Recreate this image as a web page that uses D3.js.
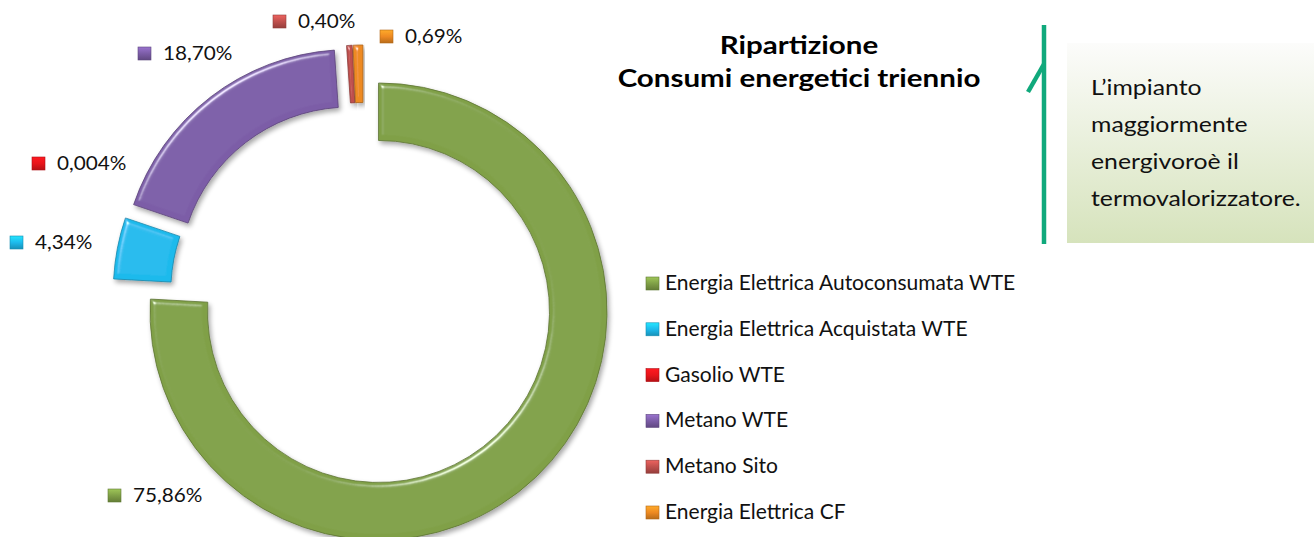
<!DOCTYPE html>
<html>
<head>
<meta charset="utf-8">
<script src="https://cdn.jsdelivr.net/npm/d3@7"></script>
<style>
  html, body { margin: 0; padding: 0; background: #fff; }
  svg { display: block; font-family: Lato, "Open Sans", sans-serif; }
</style>
</head>
<body>
<script>
// ---- data ----
const categories = [
  "Energia Elettrica Autoconsumata WTE",
  "Energia Elettrica Acquistata WTE",
  "Gasolio WTE",
  "Metano WTE",
  "Metano Sito",
  "Energia Elettrica CF"
];
const values = [75.86, 4.34, 0.004, 18.70, 0.40, 0.69];
const valueLabels = ["75,86%", "4,34%", "0,004%", "18,70%", "0,40%", "0,69%"];
const colors = ["#80A047", "#1DBAEC", "#E8141A", "#7C5DA7", "#C0504D", "#EE8A22"];
const titleLines = ["Ripartizione", "Consumi energetici triennio"];
const noteLines = ["L\u2019impianto", "maggiormente", "energivoro\u00e8 il", "termovalorizzatore."];

// ---- layout (not data) ----
const W = 1314, H = 537;
const cx = 363.4, cy = 295.5, Rout = 228.5, Rin = 171, explode = 22;
// manually placed data label anchors: [marker x, text baseline]
const labelAnchors = [[108, 502], [10, 249], [32, 170], [138, 60], [273, 28], [380, 43]];

const svg = d3.select("body").append("svg").attr("width", W).attr("height", H);
const defs = svg.append("defs");

// horizontal stretch helper (the reference text is wider than the font)
function stretch(sel, factor) {
  sel.each(function () {
    const w = this.getComputedTextLength();
    d3.select(this).attr("textLength", w * factor).attr("lengthAdjust", "spacingAndGlyphs");
  });
}

// bevel + shadow filter
const f = defs.append("filter").attr("id", "bevel")
  .attr("x", "-10%").attr("y", "-10%").attr("width", "130%").attr("height", "130%");
f.append("feGaussianBlur").attr("in", "SourceAlpha").attr("stdDeviation", 2.5).attr("result", "blur");
const spec = f.append("feSpecularLighting").attr("in", "blur").attr("surfaceScale", 4)
  .attr("specularConstant", 0.7).attr("specularExponent", 40)
  .attr("lighting-color", "#ffffff").attr("result", "spec");
spec.append("feDistantLight").attr("azimuth", 235).attr("elevation", 40);
f.append("feComposite").attr("in", "spec").attr("in2", "SourceAlpha").attr("operator", "in").attr("result", "specIn");
f.append("feComposite").attr("in", "SourceGraphic").attr("in2", "specIn").attr("operator", "arithmetic")
  .attr("k1", 0).attr("k2", 1).attr("k3", 1).attr("k4", 0).attr("result", "lit");
f.append("feGaussianBlur").attr("in", "SourceAlpha").attr("stdDeviation", 2.5).attr("result", "sb");
f.append("feOffset").attr("in", "sb").attr("dx", 2).attr("dy", 3).attr("result", "so");
f.append("feComponentTransfer").attr("in", "so").attr("result", "sh")
  .append("feFuncA").attr("type", "linear").attr("slope", 0.35);
const mg = f.append("feMerge");
mg.append("feMergeNode").attr("in", "sh");
mg.append("feMergeNode").attr("in", "lit");

// small marker gradients
colors.forEach((c, i) => {
  const g = defs.append("linearGradient").attr("id", "mk" + i)
    .attr("x1", 0).attr("y1", 0).attr("x2", 0).attr("y2", 1);
  g.append("stop").attr("offset", "0%").attr("stop-color", d3.color(c).brighter(0.6));
  g.append("stop").attr("offset", "50%").attr("stop-color", c);
  g.append("stop").attr("offset", "100%").attr("stop-color", d3.color(c).darker(0.7));
});

// ---- donut ----
const pie = d3.pie().sort(null).value(d => d).startAngle(0).endAngle(2 * Math.PI);
const arcs = pie(values);
const arcGen = d3.arc().innerRadius(Rin).outerRadius(Rout);

const gDonut = svg.append("g").attr("transform", `translate(${cx},${cy})`);
gDonut.selectAll("path.slice").data(arcs).join("path")
  .attr("class", "slice")
  .attr("transform", d => {
    const m = (d.startAngle + d.endAngle) / 2;
    return `translate(${explode * Math.sin(m)},${-explode * Math.cos(m)})`;
  })
  .attr("d", arcGen)
  .attr("fill", (d, i) => colors[i])
  .attr("stroke", (d, i) => d3.color(colors[i]).darker(0.9))
  .attr("stroke-width", d => ((d.endAngle - d.startAngle) * Rout < 1 ? 0 : 0.8))
  .attr("filter", "url(#bevel)");

// ---- data labels ----
const gLab = svg.append("g");
const lab = gLab.selectAll("g").data(valueLabels).join("g")
  .attr("transform", (d, i) => `translate(${labelAnchors[i][0]},${labelAnchors[i][1]})`);
lab.append("rect").attr("x", 0).attr("y", -13).attr("width", 13).attr("height", 13)
  .attr("fill", (d, i) => `url(#mk${i})`)
  .attr("stroke", (d, i) => d3.color(colors[i]).darker(0.8)).attr("stroke-width", 0.6);
lab.append("text").attr("x", 25).attr("y", 0)
  .attr("font-size", 18.5).attr("fill", "#111").text(d => d)
  .call(stretch, 1.12);

// ---- title ----
svg.append("g").selectAll("text").data(titleLines).join("text")
  .attr("x", 799).attr("y", (d, i) => 54 + i * 33).attr("text-anchor", "middle")
  .attr("font-size", 24).attr("font-weight", "bold").attr("fill", "#000").text(d => d)
  .call(stretch, 1.23);

// ---- legend ----
const legendX = 646, legendY0 = 290, legendStep = 45.8;
const yL = d3.scalePoint().domain(categories).range([legendY0, legendY0 + legendStep * (categories.length - 1)]);
const lg = svg.append("g").selectAll("g").data(categories).join("g")
  .attr("transform", d => `translate(${legendX},${yL(d)})`);
lg.append("rect").attr("x", 0).attr("y", -13).attr("width", 13).attr("height", 13)
  .attr("fill", (d, i) => `url(#mk${i})`)
  .attr("stroke", (d, i) => d3.color(colors[i]).darker(0.8)).attr("stroke-width", 0.6);
lg.append("text").attr("x", 19).attr("y", 0).attr("font-size", 21).attr("fill", "#111").text(d => d);

// ---- callout note ----
const ng = defs.append("linearGradient").attr("id", "noteGrad")
  .attr("x1", 0).attr("y1", 0).attr("x2", 0).attr("y2", 1);
ng.append("stop").attr("offset", "0%").attr("stop-color", "#FCFCFB");
ng.append("stop").attr("offset", "100%").attr("stop-color", "#D6E3BC");
svg.append("rect").attr("x", 1067).attr("y", 43).attr("width", 250).attr("height", 200)
  .attr("fill", "url(#noteGrad)");
svg.append("line").attr("x1", 1044).attr("y1", 25).attr("x2", 1044).attr("y2", 244)
  .attr("stroke", "#10A97C").attr("stroke-width", 4.5);
svg.append("line").attr("x1", 1028).attr("y1", 92).attr("x2", 1044).attr("y2", 64)
  .attr("stroke", "#10A97C").attr("stroke-width", 4.5);
svg.append("g").selectAll("text").data(noteLines).join("text")
  .attr("x", 1091).attr("y", (d, i) => 95 + i * 37)
  .attr("font-size", 21).attr("fill", "#111").text(d => d)
  .call(stretch, 1.18);
</script>
</body>
</html>
